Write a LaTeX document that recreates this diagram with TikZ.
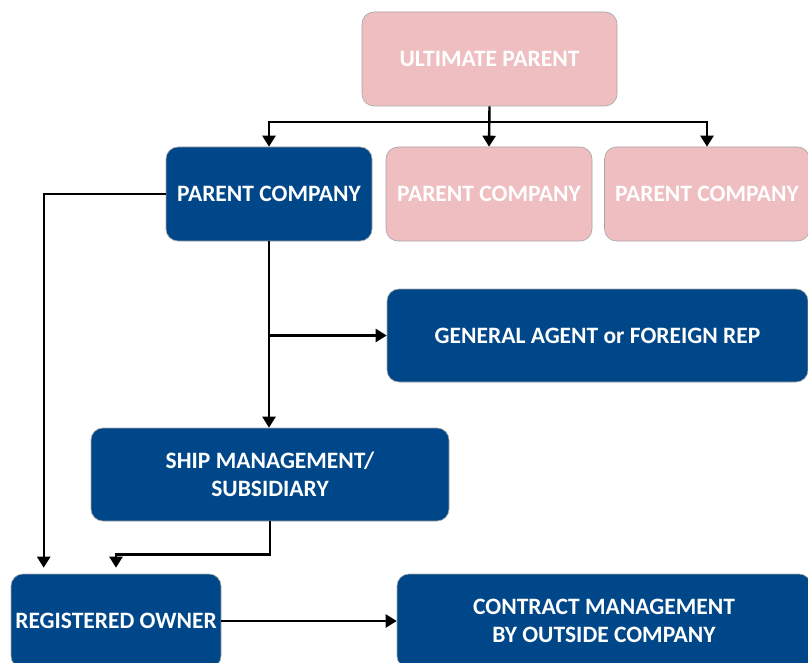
\documentclass[tikz,border=0pt]{standalone}
\usepackage{fontspec}
\setmainfont{Carlito}
\usetikzlibrary{arrows.meta,calc}
\definecolor{navy}{RGB}{0,71,137}
\definecolor{rose}{RGB}{239,190,193}
\tikzset{
  box/.style={rounded corners=12pt, draw=black!35, line width=0.6pt, text=white,
    font=\fontsize{23.5}{28}\selectfont\bfseries, align=center, inner sep=0pt},
  bluebox/.style={box, fill=navy},
  pinkbox/.style={box, fill=rose},
  conn/.style={line width=2.4pt, -{Triangle[width=13pt,length=11pt]}},
}
\begin{document}
\begin{tikzpicture}[x=1pt,y=-1pt]
\useasboundingbox (0,0) rectangle (808,663);
\clip (0,0) rectangle (808,663);
\node[pinkbox, minimum width=255pt, minimum height=94pt] (up) at (489.5,59) {ULTIMATE PARENT};
\node[bluebox, minimum width=206pt, minimum height=94pt] (pc1) at (269,194) {PARENT COMPANY};
\node[pinkbox, minimum width=206pt, minimum height=94pt] (pc2) at (489,194) {PARENT COMPANY};
\node[pinkbox, minimum width=205pt, minimum height=94pt] (pc3) at (707,194) {PARENT COMPANY};
\node[bluebox, minimum width=421pt, minimum height=93pt] (ga) at (597.5,335.5) {GENERAL AGENT or FOREIGN REP};
\node[bluebox, minimum width=358pt, minimum height=93pt] (sm) at (270,474.5) {SHIP MANAGEMENT/\\SUBSIDIARY};
\node[bluebox, minimum width=210pt, minimum height=94pt] (ro) at (116,621) {REGISTERED OWNER};
\node[bluebox, minimum width=414pt, minimum height=94pt] (cm) at (604,621) {CONTRACT MANAGEMENT\\BY OUTSIDE COMPANY};
\coordinate (j) at ($(up.south)+(0,16)$);
\draw[conn] (up.south) -- (pc2.north);
\draw[conn] (j) -| (pc1.north);
\draw[conn] (j) -| (pc3.north);
\coordinate (roL) at ($(ro.north west)+(33,-6)$);
\draw[conn] (pc1.west) -| (roL);
\draw[conn] (pc1.south) -- (pc1.south |- sm.north);
\draw[conn] (pc1.south |- ga.west) -- (ga.west);
\coordinate (roM) at ($(ro.north)+(0,-6)$);
\draw[conn] (sm.south) -- ++(0,33) -| (roM);
\draw[conn] (ro.east) -- (cm.west);
\end{tikzpicture}
\end{document}
